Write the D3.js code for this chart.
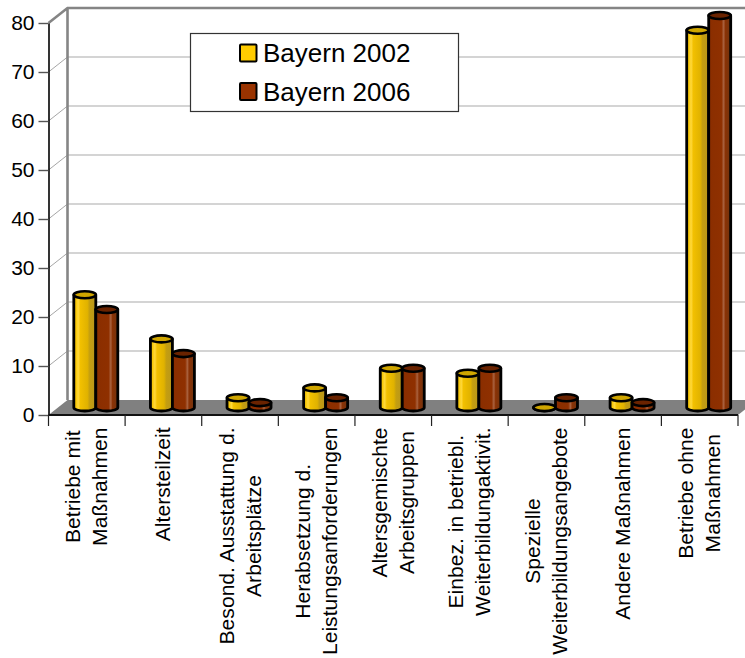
<!DOCTYPE html>
<html>
<head>
<meta charset="utf-8">
<script src="https://cdn.jsdelivr.net/npm/d3@7"></script>
<style>
    html, body { margin: 0; padding: 0; background: #fff; overflow: hidden; }
    svg { display: block; }
    text { font-family: "Liberation Sans", Arial, sans-serif; fill: #000; }
</style>
</head>
<body>
<div id="chart"></div>
<script>
// Share of establishments per measure, one line break per label row.
const categories = [
    ["Betriebe mit", "Maßnahmen"],
    ["Altersteilzeit"],
    ["Besond. Ausstattung d.", "Arbeitsplätze"],
    ["Herabsetzung d.", "Leistungsanforderungen"],
    ["Altersgemischte", "Arbeitsgruppen"],
    ["Einbez. in betriebl.", "Weiterbildungaktivit."],
    ["Spezielle", "Weiterbildungsangebote"],
    ["Andere Maßnahmen"],
    ["Betriebe ohne", "Maßnahmen"],
];
const seriesNames = ["Bayern 2002", "Bayern 2006"];
const values2002 = [23, 14, 2, 4, 8, 7, 0, 2, 77];
const values2006 = [20, 11, 1, 2, 8, 8, 2, 1, 80];
const yTicks = [0, 10, 20, 30, 40, 50, 60, 70, 80];

const width = 745;
const height = 658;

// The 3D box: how far the back wall sits from the front plane.
const depthX = 19;
const depthY = -15;
const ry = 3.5;

const svg = d3.select("#chart")
    .append("svg")
    .attr("width", width)
    .attr("height", height);

const xScale = d3.scaleBand()
    .domain(d3.range(categories.length))
    .range([48.5, 738]);

const seriesScale = d3.scaleBand()
    .domain(seriesNames)
    .range([-22.5, 21.5]);

const yScale = d3.scaleLinear()
    .domain([0, 80])
    .range([415, 23]);

const colors = [
    { id: "yellowBar", top: "#d0a600", swatch: "#ffcc00", stops: [[0, "#e8b800"], [0.12, "#fbcc10"], [0.2, "#ffd83c"], [0.3, "#f2c000"], [0.62, "#e0b200"], [0.72, "#c49e10"], [1, "#b8961c"]] },
    { id: "brownBar", top: "#6a2300", swatch: "#993300", stops: [[0, "#8a2e00"], [0.58, "#8f3000"], [0.68, "#a9623f"], [0.76, "#8a3205"], [1, "#703410"]] },
];

// Horizontal shading that makes the bars read as cylinders.
const defs = svg.append("defs");
colors.forEach((c) => {
    const grad = defs.append("linearGradient").attr("id", c.id);
    c.stops.forEach(([offset, color]) => {
        grad.append("stop").attr("offset", offset).attr("stop-color", color);
    });
});

const x0 = xScale.range()[0];
const x1 = xScale.range()[1];
const y0 = yScale(0);
const y80 = yScale(80);

// Floor
svg.append("polygon")
    .attr("points", [[x0, y0], [x1, y0], [x1 + depthX, y0 + depthY], [x0 + depthX, y0 + depthY]].join(" "))
    .attr("fill", "#808080");

// Gridlines on the back wall and their diagonals on the side wall
const grid = svg.append("g");
yTicks.filter((d) => d > 0 && d < 80).forEach((d) => {
    grid.append("line")
        .attr("x1", x0).attr("y1", yScale(d))
        .attr("x2", x0 + depthX).attr("y2", yScale(d) + depthY)
        .attr("stroke", "#a6a6a6");
    grid.append("line")
        .attr("x1", x0 + depthX).attr("y1", yScale(d) + depthY)
        .attr("x2", width).attr("y2", yScale(d) + depthY)
        .attr("stroke", "#aaa")
        .attr("stroke-width", 1.2);
});

// Wall edges
svg.append("path")
    .attr("d", `M${x0},${y80}L${x0 + depthX},${y80 + depthY}H${width}M${x0 + depthX},${y80 + depthY}V${y0 + depthY}`)
    .attr("fill", "none")
    .attr("stroke", "#858585")
    .attr("stroke-width", 2.6);

// Y axis
const yAxis = svg.append("g")
    .attr("transform", `translate(${x0},0)`)
    .call(d3.axisLeft(yScale).tickValues(yTicks).tickSize(10).tickSizeOuter(0).tickPadding(4));
yAxis.select(".domain").attr("stroke", "#000").attr("stroke-width", 1.6);
yAxis.selectAll(".tick line").attr("stroke", "#555").attr("stroke-width", 1.4);
yAxis.selectAll("text").style("font-size", "21px").attr("fill", "#000");

// X axis line and category ticks
svg.append("line")
    .attr("x1", x0).attr("x2", x1)
    .attr("y1", y0).attr("y2", y0)
    .attr("stroke", "#111")
    .attr("stroke-width", 2);
svg.append("g")
    .selectAll("line")
    .data(d3.range(categories.length + 1))
    .join("line")
    .attr("x1", (d) => x0 + d * xScale.step())
    .attr("x2", (d) => x0 + d * xScale.step())
    .attr("y1", y0)
    .attr("y2", y0 + 11)
    .attr("stroke", "#222")
    .attr("stroke-width", 1.2);

// Cylinders, 2002 first so the 2006 bar overlaps it
function drawBar(group, i, series, value, color) {
    const cx = xScale(i) + xScale.bandwidth() / 2 + depthX / 2 + seriesScale(series) + seriesScale.bandwidth() / 2;
    const r = seriesScale.bandwidth() / 2;
    const base = yScale(0) + depthY / 2;
    const top = yScale(value) + depthY / 2;
    group.append("path")
        .attr("d", `M${cx - r},${top}V${base}A${r},${ry} 0 0 0 ${cx + r},${base}V${top}Z`)
        .attr("fill", `url(#${color.id})`)
        .attr("stroke", "#000")
        .attr("stroke-width", 2.8)
        .attr("stroke-linejoin", "round");
    group.append("ellipse")
        .attr("cx", cx)
        .attr("cy", top)
        .attr("rx", r)
        .attr("ry", ry)
        .attr("fill", color.top)
        .attr("stroke", "#000")
        .attr("stroke-width", 2.6);
}

const bars = svg.append("g");
categories.forEach((label, i) => {
    drawBar(bars, i, seriesNames[0], values2002[i], colors[0]);
    drawBar(bars, i, seriesNames[1], values2006[i], colors[1]);
});

// Rotated category labels: the rows are centred on each other,
// the block hangs from just under the axis.
const lineGap = 27;
const labelFont = 21.1;
categories.forEach((rows, i) => {
    const center = xScale(i) + xScale.bandwidth() / 2;
    const g = svg.append("g");
    const nodes = rows.map((row) => g.append("text")
        .style("font-size", `${labelFont}px`)
        .attr("text-anchor", "middle")
        .text(row));
    const blockWidth = d3.max(nodes, (n) => n.node().getComputedTextLength());
    const labelY = 427.5 + blockWidth / 2;
    nodes.forEach((n, k) => {
        const baseline = center + 7 + (k - (rows.length - 1) / 2) * lineGap;
        n.attr("transform", `translate(${baseline},${labelY}) rotate(-90)`);
    });
});

// Legend
svg.append("rect")
    .attr("x", 190.5)
    .attr("y", 33.5)
    .attr("width", 268)
    .attr("height", 78)
    .attr("fill", "#fff")
    .attr("stroke", "#333")
    .attr("stroke-width", 1.2);

const legendY = d3.scalePoint().domain(seriesNames).range([53, 91.5]);
seriesNames.forEach((name, i) => {
    svg.append("rect")
        .attr("x", 240)
        .attr("y", legendY(name) - 8.5)
        .attr("width", 16.5)
        .attr("height", 17)
        .attr("rx", 1)
        .attr("fill", colors[i].swatch)
        .attr("stroke", "#000")
        .attr("stroke-width", 2);
    svg.append("text")
        .attr("x", 263)
        .attr("y", legendY(name) + 9)
        .style("font-size", "26px")
        .text(name);
});
</script>
</body>
</html>
